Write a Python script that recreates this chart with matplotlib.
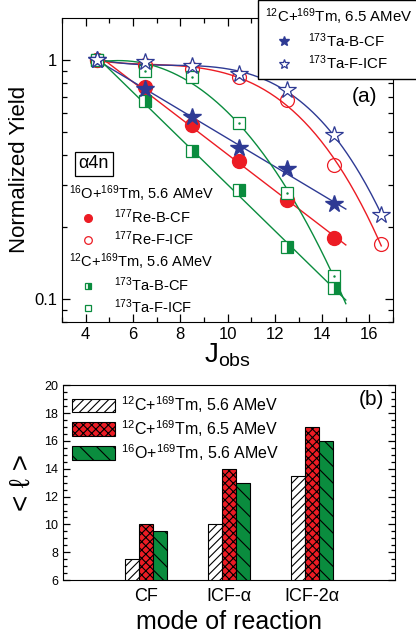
import numpy as np
import matplotlib
matplotlib.use('Agg')
import matplotlib.pyplot as plt
from matplotlib.ticker import MultipleLocator, LogLocator, NullFormatter, FixedLocator

plt.rcParams['font.family'] = ['Liberation Sans', 'DejaVu Sans']
plt.rcParams['mathtext.fontset'] = 'custom'
plt.rcParams['mathtext.rm'] = 'Liberation Sans'
plt.rcParams['mathtext.it'] = 'Liberation Sans:italic'
plt.rcParams['mathtext.bf'] = 'Liberation Sans:bold'
plt.rcParams['hatch.linewidth'] = 0.8

# (a) normalized yields vs J_obs
j_obs = [4.5, 6.5, 8.5, 10.5, 12.5, 14.5, 16.5]
re_b_cf = [1.0, 0.77, 0.533, 0.377, 0.258, 0.179]
re_f_icf = [1.0, 0.953, 0.917, 0.85, 0.68, 0.362, 0.17]
ta65_b_cf = [1.0, 0.755, 0.576, 0.427, 0.348, 0.25]
ta65_f_icf = [1.0, 0.98, 0.94, 0.874, 0.75, 0.485, 0.225]
ta56_b_cf = [1.0, 0.67, 0.415, 0.284, 0.164, 0.111]
ta56_f_icf = [1.0, 0.9, 0.85, 0.545, 0.276, 0.125]

# (b) mean angular momentum
modes = ['CF', 'ICF-α', 'ICF-2α']
l_c12_56 = [7.5, 10.0, 13.5]
l_c12_65 = [10.0, 14.0, 17.0]
l_o16_56 = [9.5, 13.0, 16.0]

RED = '#ec1c24'
BLUE = '#2e3a94'
GREEN = '#0a8c3e'


def fit_curve(y, deg, x_end):
    x = np.array(j_obs[:len(y)])
    ly = np.log10(np.array(y))
    coef = np.polyfit(x, ly, deg)
    xs = np.linspace(x[0], x_end, 200)
    return xs, 10 ** np.polyval(coef, xs)


fig = plt.figure(figsize=(4.16, 6.41), dpi=100)
ax1 = fig.add_axes([0.149, 0.498, 0.796, 0.474])
ax2 = fig.add_axes([0.151, 0.095, 0.799, 0.304])

# fitted lines
for y, c, deg, xe in [(re_b_cf, RED, 1, 15), (re_f_icf, RED, 3, 16.5),
                      (ta65_b_cf, BLUE, 1, 15), (ta65_f_icf, BLUE, 3, 16.5),
                      (ta56_b_cf, GREEN, 1, 15), (ta56_f_icf, GREEN, 3, 15)]:
    xs, ys = fit_curve(y, deg, xe)
    ax1.plot(xs, ys, color=c, lw=1.0)

n = len
h_reb, = ax1.plot(j_obs[:n(re_b_cf)], re_b_cf, 'o', ms=10, color=RED, mec=RED)
h_ref, = ax1.plot(j_obs[:n(re_f_icf)], re_f_icf, 'o', ms=10, mfc='none', mec=RED, mew=0.9)
h_tb56, = ax1.plot(j_obs[:n(ta56_b_cf)], ta56_b_cf, 's', ms=8, fillstyle='right',
                   color=GREEN, mfc=GREEN, markerfacecoloralt='white', mec=GREEN, mew=0.9)
h_tf56, = ax1.plot(j_obs[:n(ta56_f_icf)], ta56_f_icf, 's', ms=9, mfc='white', mec=GREEN, mew=0.9)
ax1.plot(j_obs[:n(ta56_f_icf)], ta56_f_icf, '.', ms=1.5, color=GREEN)
h_tb65, = ax1.plot(j_obs[:n(ta65_b_cf)], ta65_b_cf, '*', ms=13, color=BLUE, mec=BLUE)
h_tf65, = ax1.plot(j_obs[:n(ta65_f_icf)], ta65_f_icf, '*', ms=13, mfc='white', mec=BLUE, mew=0.9)

ax1.set_yscale('log')
ax1.set_xlim(3, 17)
ax1.set_ylim(0.08, 1.5)
ax1.xaxis.set_major_locator(MultipleLocator(2))
ax1.xaxis.set_minor_locator(MultipleLocator(1))
ax1.yaxis.set_major_locator(FixedLocator([0.1, 1]))
ax1.set_yticklabels(['0.1', '1'])
ax1.yaxis.set_minor_locator(LogLocator(subs=np.arange(2, 10)))
ax1.yaxis.set_minor_formatter(NullFormatter())
ax1.tick_params(which='both', direction='in', top=True, right=True, labelsize=12, width=0.9)
ax1.tick_params(which='major', length=6)
ax1.tick_params(which='minor', length=3.5)
ax1.set_ylabel('Normalized Yield', fontsize=16, labelpad=3)
ax1.set_xlabel(r'J$_{\mathregular{obs}}$', fontsize=20, labelpad=0)
ax1.text(0.915, 0.74, '(a)', transform=ax1.transAxes, fontsize=15, ha='center', va='center')
ax1.text(0.05, 0.52, 'α4n', transform=ax1.transAxes, fontsize=13, va='center',
         bbox=dict(boxstyle='square,pad=0.2', fc='white', ec='k', lw=0.9))

leg_kw = dict(loc='upper left', bbox_transform=fig.transFigure, frameon=False,
              fontsize=10.5, title_fontsize=10.5, alignment='left', markerscale=0.55,
              handlelength=2.6, handletextpad=0.5, labelspacing=0.25, borderpad=0.2,
              borderaxespad=0)
leg1 = ax1.legend([h_reb, h_ref], ['$^{177}$Re-B-CF', '$^{177}$Re-F-ICF'],
                  title='$^{16}$O+$^{169}$Tm, 5.6 AMeV', bbox_to_anchor=(66 / 416, 1 - 180 / 641),
                  **leg_kw)
ax1.add_artist(leg1)
leg2 = ax1.legend([h_tb56, h_tf56], ['$^{173}$Ta-B-CF', '$^{173}$Ta-F-ICF'],
                  title='$^{12}$C+$^{169}$Tm, 5.6 AMeV', bbox_to_anchor=(66 / 416, 1 - 248 / 641),
                  **leg_kw)
ax1.add_artist(leg2)
leg_kw.update(frameon=True, fancybox=False, edgecolor='k', framealpha=1, borderpad=0.45,
              fontsize=10.8, title_fontsize=10.8, handlelength=2.6, handletextpad=0.3)
leg3 = ax1.legend([h_tb65, h_tf65], ['$^{173}$Ta-B-CF', '$^{173}$Ta-F-ICF'],
                  title='$^{12}$C+$^{169}$Tm, 6.5 AMeV', bbox_to_anchor=(258 / 416, 1.0),
                  **leg_kw)
leg3.get_frame().set_linewidth(1.0)

# panel (b)
x = np.arange(1, len(modes) + 1)
w = 0.17
ax2.bar(x - w, l_c12_56, w, color='white', edgecolor='k', hatch='////', lw=0.8,
        label='$^{12}$C+$^{169}$Tm, 5.6 AMeV')
ax2.bar(x, l_c12_65, w, color=RED, edgecolor='k', hatch='xxxx', lw=0.8,
        label='$^{12}$C+$^{169}$Tm, 6.5 AMeV')
ax2.bar(x + w, l_o16_56, w, color=GREEN, edgecolor='k', hatch='\\\\', lw=0.8,
        label='$^{16}$O+$^{169}$Tm, 5.6 AMeV')
ax2.set_xlim(0, 4)
ax2.set_ylim(6, 20)
ax2.set_xticks(x)
ax2.set_xticklabels(modes, fontsize=13)
ax2.yaxis.set_major_locator(MultipleLocator(2))
ax2.yaxis.set_minor_locator(MultipleLocator(0.5))
ax2.tick_params(axis='y', which='both', direction='in', right=True, labelsize=9, width=0.9)
ax2.tick_params(axis='y', which='major', length=5)
ax2.tick_params(axis='y', which='minor', length=3)
ax2.tick_params(axis='x', length=0, pad=6)
ax2.set_ylabel('< ℓ >', fontsize=20, labelpad=6)
ax2.set_xlabel('mode of reaction', fontsize=18, labelpad=3)
ax2.text(0.93, 0.9, '(b)', transform=ax2.transAxes, fontsize=15, ha='center')
ax2.legend(loc='upper left', fontsize=11.5, frameon=False, handlelength=2.7,
           handleheight=0.9, handletextpad=0.4, labelspacing=0.2, borderaxespad=0.15)

fig.savefig('out.png', dpi=100)
